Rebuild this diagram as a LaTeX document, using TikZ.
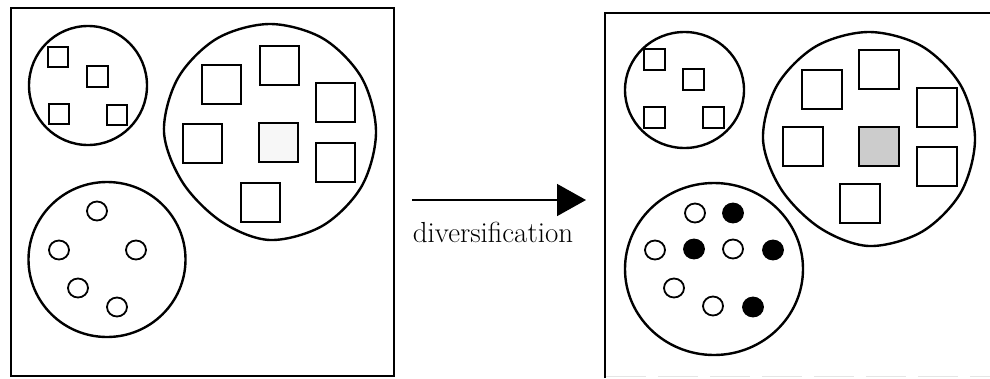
\documentclass[tikz,border=0pt]{standalone}
\usepackage{fontspec}
\usetikzlibrary{arrows.meta}
\begin{document}
\begin{tikzpicture}[x=1pt,y=-1pt,
  frame/.style={line width=2pt},
  blob/.style={line width=2.4pt},
  sq/.style={line width=2.2pt},
  dot/.style={line width=1.8pt},
  full/.style={line width=1.8pt,fill=black},
  lbl/.style={font=\fontsize{29}{33}\selectfont,inner sep=0pt,anchor=base}]
\useasboundingbox (0,0) rectangle (990,378);
% ---------- left panel ----------
\draw[frame] (11,8) rectangle (394,376);
\draw[blob] (88,85.5) ellipse [x radius=59, y radius=59.5];
\foreach \x/\y/\s in {48/47/20, 87/66/21, 49/104/20, 107/105/20}
  \draw[sq] (\x,\y) rectangle ++(\s,\s);
\draw[blob] plot[smooth cycle, tension=0.55] coordinates {
  (376,132) (361.8,186) (323,225.5) (270,240) (222,222) (183,183)
  (164,132) (178,78) (217,38.5) (270,24) (323,38.5) (361.8,78)};
\fill[gray!6] (259,123) rectangle (298,163);
\foreach \x/\y in {202/65, 260/46, 316/83, 183/124, 259/123, 316/143, 241/183}
  \draw[sq] (\x,\y) rectangle ++(39,39);
\draw[blob] (107,259.5) ellipse [x radius=78.5, y radius=77.5];
\foreach \x/\y in {97/211, 59/250, 136/250, 78/288, 117/307}
  \draw[dot] (\x,\y) ellipse [x radius=10, y radius=9.5];
% ---------- arrow and label ----------
\coordinate (from) at (412,200);
\coordinate (to) at (586,200);
\draw[line width=1.6pt, -{Triangle[length=29pt,width=32pt]}] (from) -- (to);
\node[lbl] (lab) at (493,242) {diversification};
% ---------- right panel ----------
\draw[frame] (605,378) -- (605,12.5) -- (990,12.5);
\draw[gray!20, line width=1.5pt, dash pattern=on 40pt off 12pt] (606,376.5) -- (990,376.5);
\draw[blob] (684.5,90) ellipse [x radius=59.5, y radius=58];
\foreach \x/\y/\s in {644/49/21, 683/69/21, 644/107/21, 703/107/21}
  \draw[sq] (\x,\y) rectangle ++(\s,\s);
\draw[blob] plot[smooth cycle, tension=0.55] coordinates {
  (975,139) (960.8,192.5) (922,231.7) (869,246) (820,228) (781,189)
  (763,139) (777,85.5) (816,46.3) (869,32) (922,46.3) (960.8,85.5)};
\fill[gray!40] (859,127) rectangle (899,167);
\foreach \x/\y in {802/70, 859/50, 917/88, 783/127, 859/127, 917/147, 840/184}
  \draw[sq] (\x,\y) rectangle ++(40,39);
\draw[blob] (714,269) ellipse [x radius=89, y radius=86];
\foreach \x/\y in {695/213, 655/250, 733/249, 674/288, 713/306}
  \draw[dot] (\x,\y) ellipse [x radius=10, y radius=9.5];
\foreach \x/\y in {733/213, 694/249, 773/250, 753/307}
  \draw[full] (\x,\y) ellipse [x radius=10, y radius=9.5];
\end{tikzpicture}
\end{document}
